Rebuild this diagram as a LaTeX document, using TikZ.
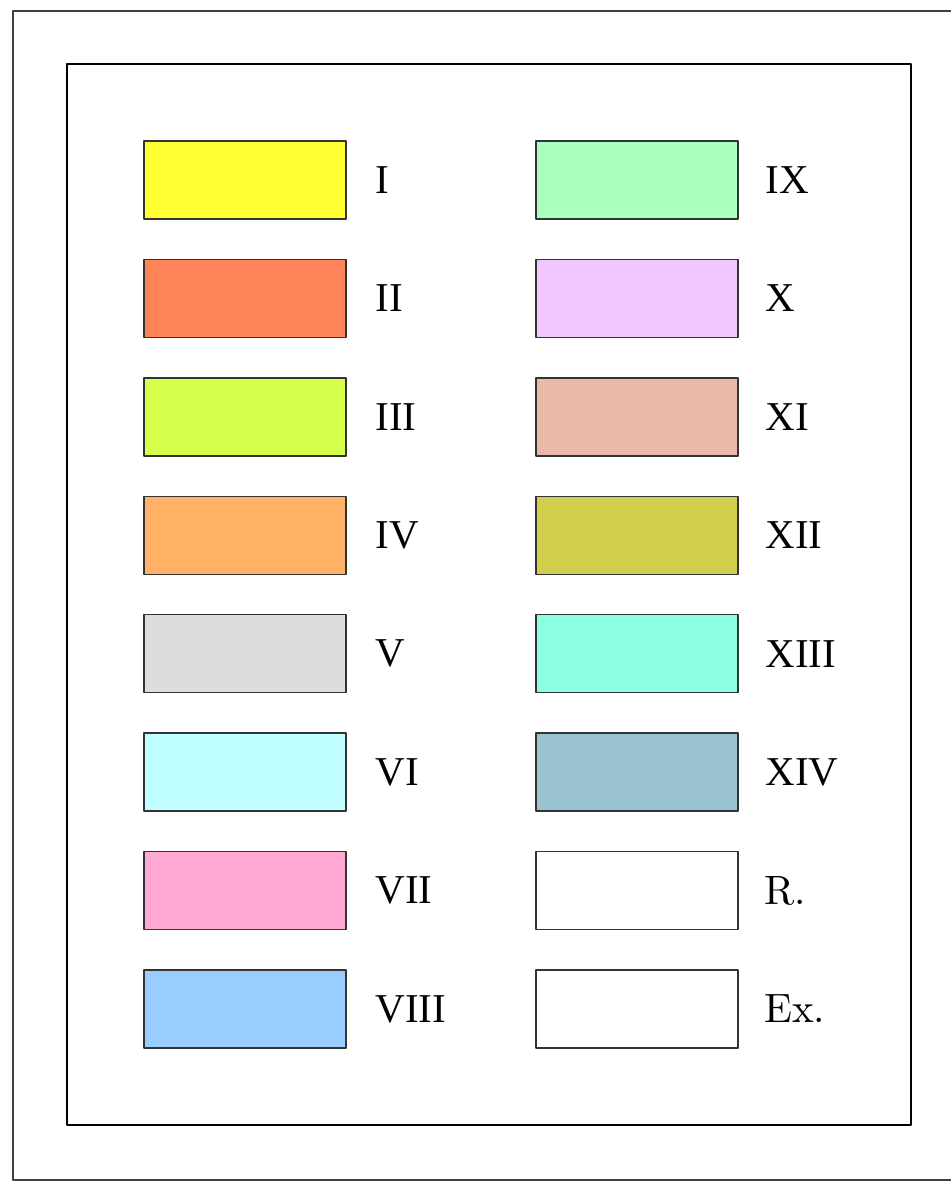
\documentclass[tikz,border=0pt]{standalone}
\usepackage{fontspec}
\newfontfamily\sofont{Liberation Serif}
\newfontfamily\lmfont[Extension=.otf]{lmroman10-regular}
\usetikzlibrary{positioning}
% mau cac o
\definecolor{cI}{HTML}{FFFF33}
\definecolor{cII}{HTML}{FF8359}
\definecolor{cIII}{HTML}{D5FF4A}
\definecolor{cIV}{HTML}{FFB266}
\definecolor{cV}{HTML}{DDDDDD}
\definecolor{cVI}{HTML}{C0FFFF}
\definecolor{cVII}{HTML}{FFA8D3}
\definecolor{cVIII}{HTML}{99CCFF}
\definecolor{cIX}{HTML}{A8FFBE}
\definecolor{cX}{HTML}{F0C8FF}
\definecolor{cXI}{HTML}{EAB8A8}
\definecolor{cXII}{HTML}{CFCF4C}
\definecolor{cXIII}{HTML}{8CFFE2}
\definecolor{cXIV}{HTML}{9AC3D2}
\begin{document}
\begin{tikzpicture}[x=0.5pt,y=-0.5pt,line join=round,
	hop/.style={draw=black!80,line width=0.75pt,minimum width=101pt,minimum height=39pt,inner sep=0pt,outer sep=0pt},
	nhan/.style={anchor=west,inner sep=0pt,font=\fontsize{20.5}{24}\selectfont}]
	\useasboundingbox (0,0) rectangle (951,1191);
	% khung ngoai va khung trong
	\draw[line width=0.7pt,black!75] (960,11) -- (13,11) -- (13,1180) -- (960,1180);
	\draw[line width=1.25pt] (67,64) rectangle (911,1125);
	% cot trai
	\foreach \t/\h in {I/0,II/1,III/2,IV/3,V/4,VI/5,VII/6,VIII/7}{
		\node[hop,fill=c\t] (o\t) at (245,180+118.43*\h) {};
		\node[nhan,right=14.5pt of o\t] (n\t) {\sofont\t};
	}
	% cot phai
	\foreach \t/\h in {IX/0,X/1,XI/2,XII/3,XIII/4,XIV/5}{
		\node[hop,fill=c\t] (o\t) at (637,180+118.43*\h) {};
		\node[nhan,right=13.5pt of o\t] (n\t) {\sofont\t};
	}
	\node[hop,fill=white] (oR) at (637,180+118.43*6) {};
	\node[nhan,right=13pt of oR] (nR) {\lmfont R.};
	\node[hop,fill=white] (oEx) at (637,180+118.43*7) {};
	\node[nhan,right=13pt of oEx] (nEx) {\lmfont Ex.};
\end{tikzpicture}
\end{document}
